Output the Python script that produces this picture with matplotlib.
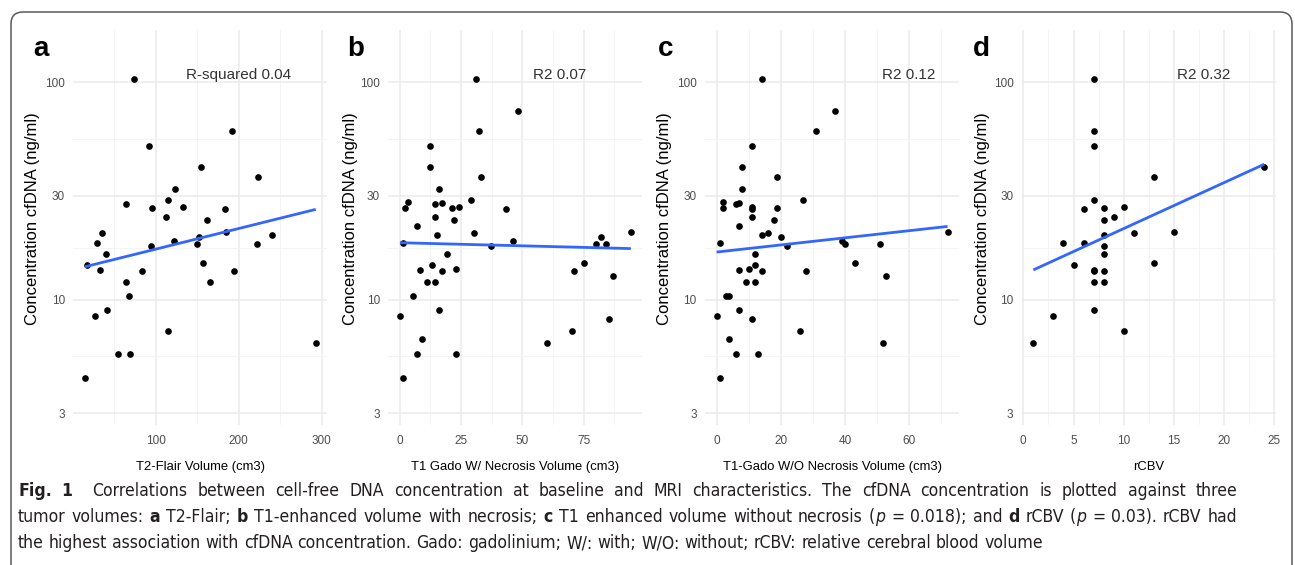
import numpy as np
import matplotlib
matplotlib.use("Agg")
import matplotlib.pyplot as plt
from matplotlib import font_manager
from matplotlib.path import Path
from matplotlib.patches import PathPatch
from matplotlib.transforms import IdentityTransform
from matplotlib.ticker import FixedLocator, NullFormatter

# ---------------- data ----------------
a_x = [73.6, 192.0, 91.6, 154.8, 223.2, 123.6, 64.0, 114.8, 95.6, 133.2, 184.0, 112.4,
       161.6, 35.2, 239.6, 185.2, 152.8, 121.6, 149.6, 29.6, 222.4, 94.4, 40.8, 16.8,
       157.6, 32.8, 84.0, 194.0, 64.0, 165.6, 68.0, 42.0, 27.6, 114.8, 292.8, 55.2, 69.6, 14.8]
a_y = [103.6, 59.8, 50.8, 40.9, 36.8, 32.2, 27.6, 28.7, 26.4, 26.7, 26.0, 24.1,
       23.3, 20.2, 19.9, 20.5, 19.5, 18.7, 18.1, 18.3, 18.0, 17.6, 16.3, 14.4,
       14.8, 13.7, 13.5, 13.6, 12.0, 12.0, 10.4, 9.0, 8.4, 7.2, 6.3, 5.65, 5.65, 4.35]

b_x = [31.1, 48.2, 32.2, 12.2, 12.2, 33.2, 16.2, 3.2, 2.2, 14.2, 17.3, 21.2, 24.2, 29.2,
       43.2, 14.2, 22.2, 7.2, 15.1, 30.1, 94.2, 82.2, 46.1, 80.1, 84.1, 1.4, 37.2, 19.1,
       75.1, 13.1, 8.1, 23.1, 17.3, 71.2, 87.0, 11.1, 14.2, 5.3, 16.2, 0.1, 85.1, 70.1,
       9.2, 60.1, 7.2, 23.1, 1.2]
b_y = [103.6, 73.5, 59.8, 50.8, 40.9, 36.8, 32.2, 28.2, 26.4, 27.6, 27.8, 26.4, 26.7, 28.7,
       26.0, 24.1, 23.3, 21.8, 19.9, 20.2, 20.5, 19.5, 18.7, 18.0, 18.1, 18.3, 17.6, 16.3,
       14.8, 14.4, 13.7, 13.9, 13.5, 13.6, 12.8, 12.0, 12.0, 10.4, 9.0, 8.4, 8.15, 7.2,
       6.58, 6.3, 5.65, 5.65, 4.35]

c_x = [14.1, 37.0, 31.0, 11.1, 8.0, 18.9, 8.0, 2.1, 2.1, 6.0, 7.0, 11.1, 11.1, 18.9,
       27.0, 11.1, 18.0, 7.0, 14.1, 16.0, 72.0, 20.0, 39.1, 40.0, 51.0, 1.0, 22.0, 12.0,
       43.0, 12.0, 7.0, 10.0, 14.1, 27.9, 52.9, 9.0, 12.0, 3.0, 4.0, 7.0, 0.0, 11.1,
       26.0, 4.0, 52.0, 6.0, 13.0, 1.0]
c_y = [103.6, 73.5, 59.8, 50.8, 40.9, 36.8, 32.2, 28.2, 26.4, 27.6, 27.8, 26.7, 26.0, 26.4,
       28.7, 24.1, 23.3, 21.8, 19.9, 20.2, 20.5, 19.5, 18.7, 18.0, 18.1, 18.3, 17.6, 16.3,
       14.8, 14.4, 13.7, 13.9, 13.5, 13.6, 12.8, 12.0, 12.0, 10.4, 10.35, 9.0, 8.4, 8.15,
       7.2, 6.58, 6.3, 5.65, 5.65, 4.35]

d_x = [7, 7, 7, 24, 13, 7, 6, 8, 10, 9, 8, 15, 11, 8, 4, 6, 8, 8, 13, 5, 7, 7, 8, 7, 8,
       7, 3, 10, 1]
d_y = [103.6, 59.8, 50.8, 40.9, 36.8, 28.7, 26.0, 26.4, 26.7, 24.1, 23.3, 20.5, 20.2, 19.9,
       18.3, 18.3, 17.6, 16.3, 14.8, 14.4, 13.7, 13.5, 13.6, 12.0, 12.0, 9.0, 8.4, 7.2, 6.3]

panel_letters = ["a", "b", "c", "d"]
x_titles = ["T2-Flair Volume (cm3)", "T1 Gado W/ Necrosis Volume (cm3)",
            "T1-Gado W/O Necrosis Volume (cm3)", "rCBV"]
r2_labels = ["R-squared 0.04", "R2 0.07", "R2 0.12", "R2 0.32"]
r2_xpos = [200, 65, 60, 18]
r2_ypos = 108
x_majors = [[100, 200, 300], [0, 25, 50, 75], [0, 20, 40, 60], [0, 5, 10, 15, 20, 25]]
y_majors = [3, 10, 30, 100]
y_label = "Concentration cfDNA (ng/ml)"

caption_lines = [
    [("Fig. 1", "bold", "normal"),
     ("  Correlations between cell-free DNA concentration at baseline and MRI characteristics. "
      "The cfDNA concentration is plotted against three", "normal", "normal")],
    [("tumor volumes: ", "normal", "normal"), ("a", "bold", "normal"),
     (" T2-Flair; ", "normal", "normal"), ("b", "bold", "normal"),
     (" T1-enhanced volume with necrosis; ", "normal", "normal"), ("c", "bold", "normal"),
     (" T1 enhanced volume without necrosis (", "normal", "normal"), ("p", "normal", "italic"),
     (" = 0.018); and ", "normal", "normal"), ("d", "bold", "normal"),
     (" rCBV (", "normal", "normal"), ("p", "normal", "italic"),
     (" = 0.03). rCBV had", "normal", "normal")],
    [("the highest association with cfDNA concentration. Gado: gadolinium; W/: with; "
      "W/O: without; rCBV: relative cerebral blood volume", "normal", "normal")],
]
caption_justify = [True, True, False]

# ---------------- layout ----------------
W, H = 1295, 565
plt.rcParams["font.family"] = ["Liberation Sans", "DejaVu Sans"]
names = {f.name for f in font_manager.fontManager.ttflist}
narrow = "Liberation Sans Narrow" if "Liberation Sans Narrow" in names else None

fig = plt.figure(figsize=(W / 100, H / 100), dpi=100)
fig.patch.set_facecolor("white")


def fx(px):
    return px / W


def fy(py):
    return 1 - py / H


panel_left = [73.3, 388.4, 705.1, 1021.8]
panel_w = 254.0
panel_top, panel_bot = 30.0, 425.0
letter_x = [33, 347, 658, 973]
ylab_x = [33, 350, 665, 982]

datasets = [(a_x, a_y), (b_x, b_y), (c_x, c_y), (d_x, d_y)]
ymin, ymax = 2.65, 174.0

for i, (xs, ys) in enumerate(datasets):
    xs = np.asarray(xs, float)
    ys = np.asarray(ys, float)
    ax = fig.add_axes([fx(panel_left[i]), fy(panel_bot), panel_w / W,
                       (panel_bot - panel_top) / H])
    ax.set_facecolor("white")
    for s in ax.spines.values():
        s.set_visible(False)
    rng = xs.max() - xs.min()
    ax.set_xlim(xs.min() - 0.05 * rng, xs.max() + 0.05 * rng)
    ax.set_yscale("log")
    ax.set_ylim(ymin, ymax)

    xm = x_majors[i]
    step = xm[1] - xm[0]
    minors = [m + step / 2 for m in [xm[0] - step] + xm]
    ax.xaxis.set_major_locator(FixedLocator(xm))
    ax.xaxis.set_minor_locator(FixedLocator(minors))
    ax.set_xticklabels([str(v) for v in xm])
    ax.yaxis.set_major_locator(FixedLocator(y_majors))
    ax.set_yticklabels([str(v) for v in y_majors])
    ly = np.log10(y_majors)
    ax.yaxis.set_minor_locator(FixedLocator(10 ** ((ly[:-1] + ly[1:]) / 2)))
    ax.yaxis.set_minor_formatter(NullFormatter())
    ax.xaxis.set_minor_formatter(NullFormatter())
    ax.grid(which="major", color="#ebebeb", lw=1.1, zorder=0)
    ax.grid(which="minor", color="#f3f3f3", lw=0.6, zorder=0)
    ax.set_axisbelow(True)
    ax.tick_params(which="both", length=0, labelsize=8.5, labelcolor="#4d4d4d")
    ax.tick_params(axis="y", pad=6)
    ax.tick_params(axis="x", pad=7)

    ax.plot(xs, ys, "o", color="black", ms=4.8, mec="none", zorder=3)
    k, b0 = np.polyfit(xs, np.log10(ys), 1)
    lx = np.array([xs.min(), xs.max()])
    ax.plot(lx, 10 ** (b0 + k * lx), color="#3366FF", lw=2.0, zorder=4,
            solid_capstyle="butt")

    ax.text(r2_xpos[i], r2_ypos, r2_labels[i], ha="center", va="center",
            fontsize=11, color="#333333")

    fig.text(fx(letter_x[i]), fy(56), panel_letters[i], ha="left", va="baseline",
             fontsize=20, weight="bold", color="black")
    fig.text(fx(ylab_x[i]), fy(219), y_label, rotation=90, ha="center", va="center",
             fontsize=12, color="black")
    xt_kw = dict(family=narrow, fontsize=11.5) if narrow else dict(fontsize=9.4)
    fig.text(fx(panel_left[i] + panel_w / 2), fy(467), x_titles[i], ha="center",
             va="center", color="black", **xt_kw)

# ---------------- figure border ----------------
L, R, T, r = 11.0, 1292.0, H - 12.0, 12.0
verts = [(L, -5), (L, T - r), (L, T), (L + r, T), (R - r, T), (R, T), (R, T - r), (R, -5)]
codes = [Path.MOVETO, Path.LINETO, Path.CURVE3, Path.CURVE3, Path.LINETO,
         Path.CURVE3, Path.CURVE3, Path.LINETO]
fig.add_artist(PathPatch(Path(verts, codes), transform=IdentityTransform(),
                         fill=False, edgecolor="#5a5a5a", lw=1.1))

# ---------------- caption (justified like the journal layout) ----------------
renderer = fig.canvas.get_renderer()
cap_family = narrow if narrow else "DejaVu Sans"
cap_stretch = "normal" if narrow else "condensed"
cap_color = "#231f20"


def cap_kw(size, weight, style):
    return dict(family=cap_family, fontstretch=cap_stretch, fontsize=size,
                weight=weight, style=style, color=cap_color)


def measure(s, **kw):
    t = fig.text(0, 0, s, **kw)
    w = t.get_window_extent(renderer).width
    t.remove()
    return w


def tokens_of(pieces):
    toks = []  # (word, weight, style, spaces_before)
    pending = 0
    for s, weight, style in pieces:
        parts = s.split(" ")
        for j, p in enumerate(parts):
            if j > 0:
                pending += 1
            if p:
                toks.append((p, weight, style, pending))
                pending = 0
    return toks


def layout_line(pieces, x0, base, size, target=None, draw=True):
    toks = tokens_of(pieces)
    kwn = cap_kw(size, "normal", "normal")
    sp = measure("x x", **kwn) - measure("xx", **kwn)
    widths = [measure(w, **cap_kw(size, wt, st)) for w, wt, st, _ in toks]
    nsp = sum(t[3] for t in toks)
    natural = sum(widths) + nsp * sp
    extra = 0.0
    if target is not None and nsp > 0:
        extra = (target - natural) / nsp
    if draw:
        x = x0
        for (w, wt, st, nb), wd in zip(toks, widths):
            x += nb * (sp + extra)
            fig.text(fx(x), fy(base), w, ha="left", va="baseline", **cap_kw(size, wt, st))
            x += wd
    return natural


cap_left, cap_right = 18.0, 1237.0
span = cap_right - cap_left
nat_max = max(layout_line(caption_lines[j], 0, 0, 10, draw=False) for j in (0, 1))
cap_size = 10 * 0.985 * span / nat_max
for j, line in enumerate(caption_lines):
    tgt = span if caption_justify[j] else None
    layout_line(line, cap_left, 496 + 26 * j, cap_size, target=tgt)

fig.savefig("out.png", dpi=100, facecolor="white")
